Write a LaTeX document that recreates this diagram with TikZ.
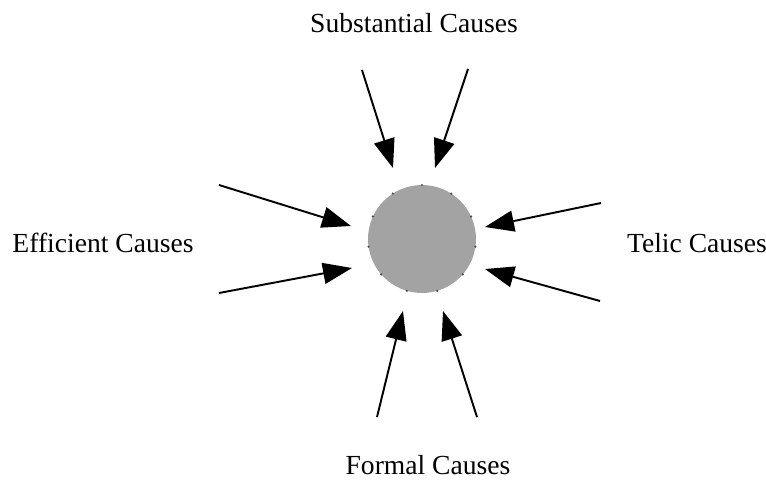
\documentclass[tikz,border=0pt]{standalone}
\usepackage{fontspec}
\setmainfont{Liberation Serif}
\usetikzlibrary{calc, arrows.meta}

\definecolor{coregray}{RGB}{163,163,163}
\tikzset{
  cause/.style={anchor=base, font=\fontsize{15.7}{19}\selectfont},
  pull/.style={-{Triangle[length=0.58cm,width=0.42cm]}, line width=1.1pt, black}
}

\begin{document}
\begin{tikzpicture}[x=0.02cm, y=-0.02cm]
      \useasboundingbox (0,0) rectangle (766,480);
      \node[circle, fill=coregray, minimum size=2.16cm, inner sep=0pt] (core) at (422,239) {};
      \foreach \k in {0,...,10}
        \fill[black!70] ($(core.center)+({90+\k*360/11}:-54)$) circle (0.7pt);
      \node[cause] (subst) at (414,32) {Substantial Causes};
      \node[cause] (effic) at (103,252) {Efficient Causes};
      \node[cause] (telic) at (697,252) {Telic Causes};
      \node[cause] (formal) at (428,474) {Formal Causes};
      % tails and tips
      \coordinate (s1) at (362,70);  \coordinate (s1t) at (393,168);
      \coordinate (s2) at (468,69);  \coordinate (s2t) at (435,168);
      \coordinate (e1) at (219,185); \coordinate (e1t) at (351,226);
      \coordinate (e2) at (219,293); \coordinate (e2t) at (352,268);
      \coordinate (t1) at (601,203); \coordinate (t1t) at (485,227);
      \coordinate (t2) at (600,301); \coordinate (t2t) at (485,269);
      \coordinate (f1) at (377,417); \coordinate (f1t) at (403,311);
      \coordinate (f2) at (477,417); \coordinate (f2t) at (443,311);
      % top arrows
      \draw[pull] (s1) -- (s1t);
      \draw[pull] (s2) -- (s2t);
      % left arrows
      \draw[pull] (e1) -- (e1t);
      \draw[pull] (e2) -- (e2t);
      % right arrows
      \draw[pull] (t1) -- (t1t);
      \draw[pull] (t2) -- (t2t);
      % bottom arrows
      \draw[pull] (f1) -- (f1t);
      \draw[pull] (f2) -- (f2t);
\end{tikzpicture}
\end{document}
